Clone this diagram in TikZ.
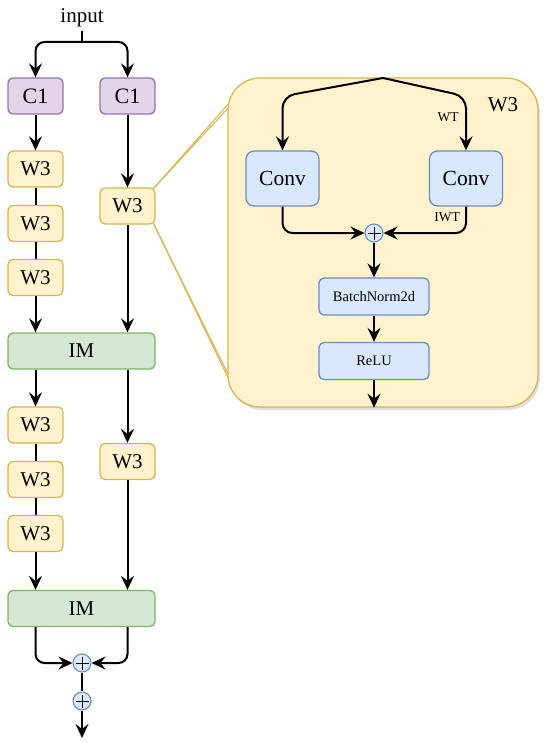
\documentclass[tikz,border=0pt]{standalone}
\usepackage{fontspec}
\setmainfont{Liberation Serif}
\usetikzlibrary{arrows.meta,shadows,calc}
\definecolor{purF}{HTML}{E1D5E7}\definecolor{purD}{HTML}{9673A6}
\definecolor{yelF}{HTML}{FFF2CC}\definecolor{yelD}{HTML}{D6B656}
\definecolor{grnF}{HTML}{D5E8D4}\definecolor{grnD}{HTML}{82B366}
\definecolor{bluF}{HTML}{DAE8FC}\definecolor{bluD}{HTML}{6C8EBF}
\tikzset{
  box/.style={draw, line width=1.3pt, rounded corners=5pt, minimum width=55pt, minimum height=36pt, inner sep=0pt, font=\fontsize{21}{21}\selectfont},
  c1box/.style={box, fill=purF, draw=purD, font=\fontsize{22}{22}\selectfont},
  wbox/.style={box, fill=yelF, draw=yelD},
  imbox/.style={box, fill=grnF, draw=grnD, minimum width=147pt, font=\fontsize{21}{21}\selectfont},
  convbox/.style={box, fill=bluF, draw=bluD, minimum width=73pt, minimum height=55pt, rounded corners=8pt, font=\fontsize{21.5}{21.5}\selectfont},
  smallbox/.style={box, fill=bluF, draw=bluD, minimum width=110pt, minimum height=37pt, font=\fontsize{14.5}{14.5}\selectfont},
  plusnode/.style={circle, draw=bluD, fill=bluF, line width=1.1pt, minimum size=18pt, inner sep=0pt,
    path picture={\draw[black, line width=0.8pt] ($(path picture bounding box.center)+(-6.5pt,0)$) -- ($(path picture bounding box.center)+(6.5pt,0)$) ($(path picture bounding box.center)+(0,-6.5pt)$) -- ($(path picture bounding box.center)+(0,6.5pt)$);}},
  arr/.style={line width=2pt, -{Stealth[length=14pt,width=13pt,inset=5pt]}},
  ln/.style={line width=2pt},
  zoomln/.style={draw=yelD, line width=1.1pt},
}
\begin{document}
\begin{tikzpicture}[x=1pt,y=-1pt]
\useasboundingbox (0,0) rectangle (550,743);
% left column
\node[font=\fontsize{21}{21}\selectfont] (in) at (82,18) {input};
\coordinate (j) at (82,42);
\node[c1box] (c1l) at (35.5,96) {C1};
\node[c1box] (c1r) at (127.5,96) {C1};
\node[wbox] (w1) at (35.5,169) {W3};
\node[wbox] (w2) at (35.5,223.5) {W3};
\node[wbox] (w3) at (35.5,277.5) {W3};
\node[wbox] (wr1) at (127.5,206) {W3};
\node[imbox] (im1) at (81.5,351) {IM};
\node[wbox] (w4) at (35.5,425) {W3};
\node[wbox] (w5) at (35.5,479.5) {W3};
\node[wbox] (w6) at (35.5,533.5) {W3};
\node[wbox] (wr2) at (127.5,461.5) {W3};
\node[imbox] (im2) at (81.5,608.5) {IM};
\node[plusnode] (p1) at (82,663) {};
\node[plusnode] (p2) at (82,701) {};
\coordinate (out) at (82,738);

\draw[ln] (in.south) -- (j);
\draw[arr, rounded corners=9pt] (j) -| (c1l.north);
\draw[arr, rounded corners=9pt] (j) -| (c1r.north);
\draw[arr] (c1l) -- (w1);
\draw[ln] (w1) -- (w2);
\draw[ln] (w2) -- (w3);
\draw[arr] (w3) -- (w3.south |- im1.north);
\draw[arr] (c1r) -- (wr1);
\draw[arr] (wr1) -- (wr1.south |- im1.north);
\draw[arr] (im1.south -| w4.north) -- (w4);
\draw[ln] (w4) -- (w5);
\draw[ln] (w5) -- (w6);
\draw[arr] (w6) -- (w6.south |- im2.north);
\draw[arr] (im1.south -| wr2.north) -- (wr2);
\draw[arr] (wr2) -- (wr2.south |- im2.north);
\draw[arr, rounded corners=9pt] (im2.south -| w6.south) |- (p1.west);
\draw[arr, rounded corners=9pt] (im2.south -| wr2.south) |- (p1.east);
\draw[ln] (p1) -- (p2);
\draw[arr] (p2) -- (out);

% zoom lines
\coordinate (zt) at (153.5,188.5);
\coordinate (zb) at (153.5,223.5);
\draw[zoomln] (zt) -- (230,106);
\draw[zoomln] (zt) -- (239,92);
\draw[zoomln] (zb) -- (228,374);
\draw[zoomln] (zb) -- (234,390);

% panel
\node[draw=yelD, fill=yelF, line width=1.3pt, rounded corners=32pt, minimum width=310pt, minimum height=329pt,
  drop shadow={opacity=0.25, shadow xshift=2pt, shadow yshift=-3pt}] (panel) at (383,242.5) {};
\node[font=\fontsize{21}{21}\selectfont] (lbl) at (503,105) {W3};
\coordinate (top) at (383,78);
\node[convbox] (cl) at (282.5,178.5) {Conv};
\node[convbox] (cr) at (466,178.5) {Conv};
\node[plusnode] (p3) at (374,233) {};
\node[smallbox] (bn) at (374,296.5) {BatchNorm2d};
\node[smallbox] (relu) at (374,361) {ReLU};
\node[font=\fontsize{13.5}{13.5}\selectfont] (wt) at (448,117) {WT};
\node[font=\fontsize{13.5}{13.5}\selectfont] (iwt) at (447,217) {IWT};
\draw[arr, rounded corners=12pt] (top) -- ($(cl.north)+(0,-54)$) -- (cl.north);
\draw[arr, rounded corners=12pt] (top) -- ($(cr.north)+(0,-54)$) -- (cr.north);
\draw[arr, rounded corners=10pt] (cl.south) |- (p3.west);
\draw[arr, rounded corners=10pt] (cr.south) |- (p3.east);
\draw[arr] (p3) -- (bn);
\draw[arr] (bn) -- (relu);
\draw[arr] (relu) -- (relu.south |- panel.south);
\end{tikzpicture}
\end{document}
